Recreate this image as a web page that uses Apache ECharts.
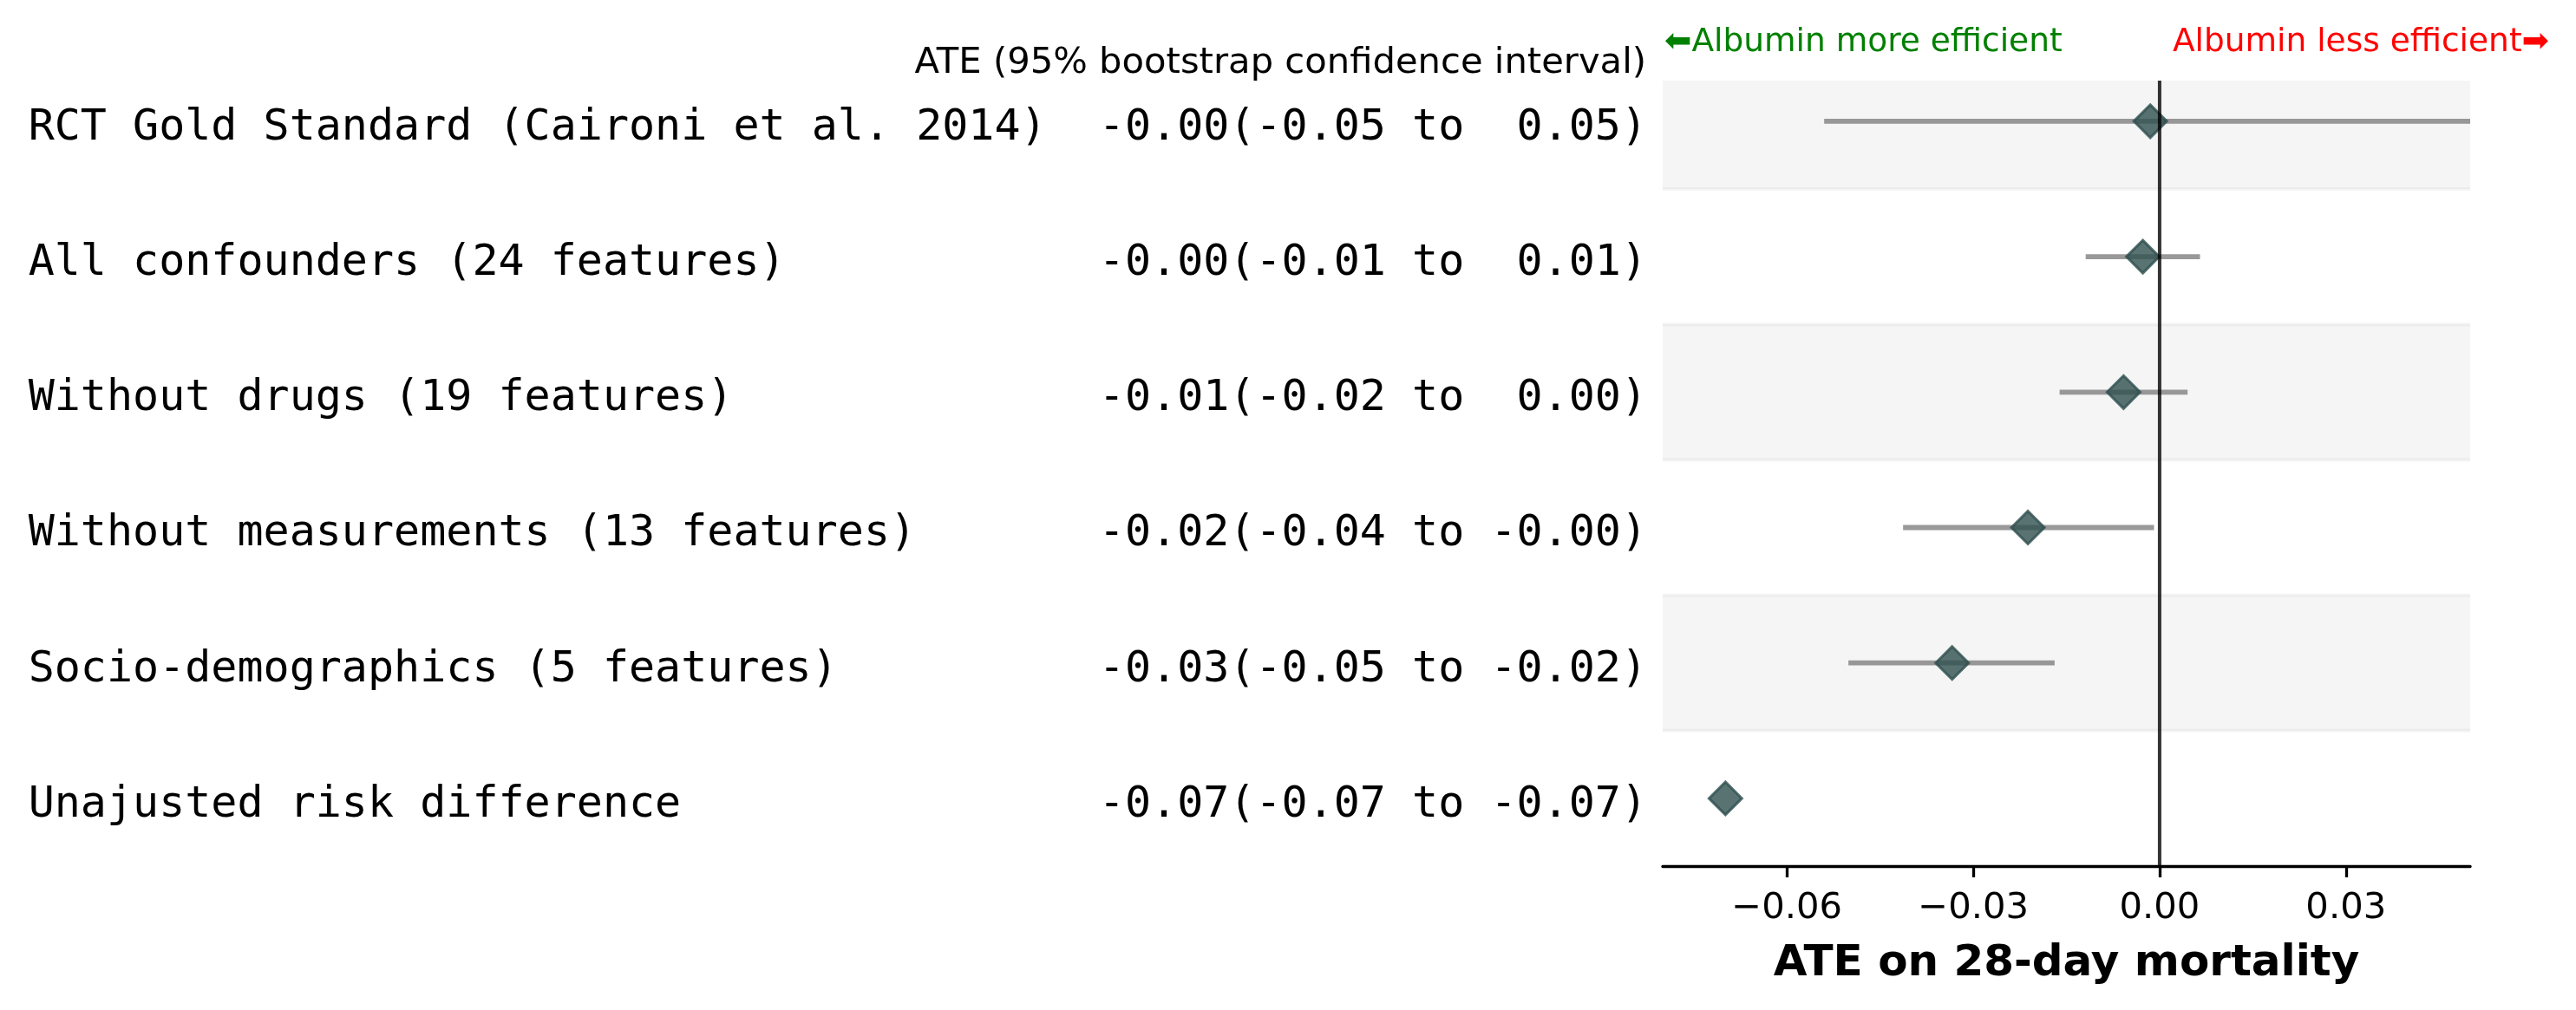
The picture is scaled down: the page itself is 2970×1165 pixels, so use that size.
<!DOCTYPE html>
<html>
<head>
<meta charset="utf-8">
<script src="https://cdn.jsdelivr.net/npm/echarts@6/dist/echarts.min.js"></script>
<style>
html, body { margin: 0; padding: 0; background: #ffffff; }
#chart { width: 2970px; height: 1165px; }
</style>
</head>
<body>
<div id="chart"></div>
<script>
// ---- data (rows from top to bottom) ----
const rowLabels = [
  'RCT Gold Standard (Caironi et al. 2014)',
  'All confounders (24 features)',
  'Without drugs (19 features)',
  'Without measurements (13 features)',
  'Socio-demographics (5 features)',
  'Unajusted risk difference'
];
const ciLabels = [
  '-0.00(-0.05 to  0.05)',
  '-0.00(-0.01 to  0.01)',
  '-0.01(-0.02 to  0.00)',
  '-0.02(-0.04 to -0.00)',
  '-0.03(-0.05 to -0.02)',
  '-0.07(-0.07 to -0.07)'
];
const ate    = [-0.0015, -0.0027, -0.0058, -0.0212, -0.0334, -0.0699];
const ciLow  = [-0.0540, -0.0119, -0.0161, -0.0413, -0.0501, -0.0699];
const ciHigh = [ 0.0540,  0.0065,  0.0045, -0.0009, -0.0169, -0.0699];
const shadedRows = [0, 2, 4];
const xTicks = [-0.06, -0.03, 0.00, 0.03];
const yRowValues = [0, 1, 2, 3, 4, 5];
const headerText = 'ATE (95% bootstrap confidence interval)';
const leftNote = '\u2B05Albumin more efficient';
const rightNote = 'Albumin less efficient\u27A1';
const xName = 'ATE on 28-day mortality';

const nRows = rowLabels.length;
const rowY = i => nRows - 1 - i;

const chart = echarts.init(document.getElementById('chart'), null, { renderer: 'canvas' });

const option = {
  animation: false,
  backgroundColor: '#ffffff',
  grid: { left: 1917, right: 122, top: 93, bottom: 166, containLabel: false, outerBoundsMode: 'none' },
  xAxis: {
    type: 'value', min: -0.08, max: 0.05,
    axisLine: { show: true, onZero: false, lineStyle: { color: '#000', width: 3.3 } },
    axisTick: { show: true, customValues: xTicks, length: 13, lineStyle: { color: '#000', width: 3.3 } },
    axisLabel: {
      customValues: xTicks, margin: 28, color: '#000', fontSize: 41.7, fontFamily: 'DejaVu Sans',
      formatter: v => (v < 0 ? '\u2212' : '') + Math.abs(v).toFixed(2)
    },
    splitLine: { show: false },
    name: xName, nameLocation: 'middle', nameGap: 113.5,
    nameTextStyle: { fontSize: 50, fontWeight: 'bold', fontFamily: 'DejaVu Sans', color: '#000', verticalAlign: 'middle' }
  },
  yAxis: {
    type: 'value', min: -0.5, max: 5.3,
    axisLine: { show: false }, axisTick: { show: false }, splitLine: { show: false },
    axisLabel: {
      customValues: yRowValues, margin: 18, color: '#000', fontSize: 50, fontFamily: 'DejaVu Sans Mono',
      verticalAlign: 'top', lineHeight: 16,
      formatter: v => { const i = nRows - 1 - Math.round(v); return rowLabels[i].padEnd(41, ' ') + ciLabels[i]; }
    }
  },
  graphic: [
    { type: 'text', x: 1898, y: 73, style: { text: headerText, fill: '#000', font: '41.7px "DejaVu Sans"', textAlign: 'right', textVerticalAlign: 'middle' } },
    { type: 'text', x: 1919, y: 49.5, style: { text: leftNote, fill: '#008000', font: '37.5px "DejaVu Sans"', textAlign: 'left', textVerticalAlign: 'middle' } },
    { type: 'text', x: 2939, y: 49.5, style: { text: rightNote, fill: '#ff0000', font: '37.5px "DejaVu Sans"', textAlign: 'right', textVerticalAlign: 'middle' } }
  ],
  series: [
    {
      name: 'bands', type: 'custom', clip: true, silent: true, z: 1,
      encode: { x: 0, y: 1 },
      data: shadedRows.map(i => [0, rowY(i)]),
      renderItem: (params, api) => {
        const cs = params.coordSys;
        const y = api.value(1);
        const top = api.coord([0, y + 0.5])[1];
        const bot = api.coord([0, y - 0.5])[1];
        return {
          type: 'rect',
          shape: { x: cs.x - 3, y: top, width: cs.width + 6, height: bot - top },
          style: { fill: 'rgba(128,128,128,0.08)', stroke: 'rgba(128,128,128,0.08)', lineWidth: 4 }
        };
      }
    },
    {
      name: 'ci', type: 'custom', clip: true, silent: true, z: 2,
      encode: { x: [0, 1], y: 2 },
      data: ate.map((v, i) => [ciLow[i], ciHigh[i], rowY(i)]),
      renderItem: (params, api) => {
        const y = api.value(2);
        const a = api.coord([api.value(0), y]);
        const b = api.coord([api.value(1), y]);
        return {
          type: 'line',
          shape: { x1: a[0], y1: a[1], x2: b[0], y2: b[1] },
          style: { stroke: 'rgba(128,128,128,0.8)', lineWidth: 5.8, lineCap: 'butt' }
        };
      }
    },
    {
      name: 'ate', type: 'scatter', silent: true, z: 3,
      symbol: 'diamond', symbolSize: 38,
      itemStyle: { color: 'rgba(47,79,79,0.8)', borderColor: 'rgba(47,79,79,0.8)', borderWidth: 3, opacity: 1 },
      data: ate.map((v, i) => [v, rowY(i)])
    },
    {
      name: 'zero', type: 'custom', silent: true, z: 4,
      encode: { x: 0 },
      data: [[0]],
      renderItem: (params, api) => {
        const cs = params.coordSys;
        const x = api.coord([api.value(0), 0])[0];
        return {
          type: 'line',
          shape: { x1: x, y1: cs.y, x2: x, y2: cs.y + cs.height },
          style: { stroke: 'rgba(0,0,0,0.8)', lineWidth: 4 }
        };
      }
    }
  ]
};
chart.setOption(option);
</script>
</body>
</html>
